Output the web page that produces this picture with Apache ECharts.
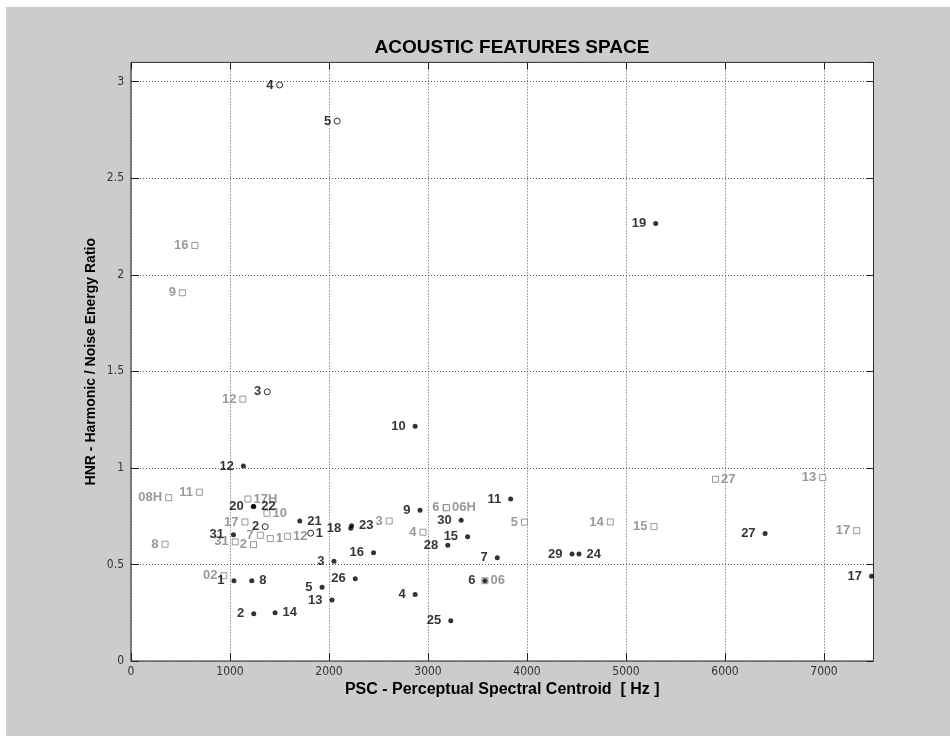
<!DOCTYPE html>
<html>
<head>
<meta charset="utf-8">
<script src="https://cdn.jsdelivr.net/npm/echarts@6/dist/echarts.min.js"></script>
<style>
html,body{margin:0;padding:0;background:#fff;}
#c{position:absolute;left:6px;top:7px;width:944px;height:729px;}
</style>
</head>
<body>
<div id="c"></div>
<script>
// ---- data ----
const chartTitle = 'ACOUSTIC FEATURES SPACE';
const xName = 'PSC - Perceptual Spectral Centroid  [ Hz ]';
const yName = 'HNR - Harmonic / Noise Energy Ratio';

// black filled dots
const dotNames = ['1','2','3','4','5','6','7','8','9','10','11','12','13','14','15','16','17','18','19','20','21','22','23','24','25','26','27','28','29','30','31'];
const dotX = [1040,1240,2050,2870,1930,3575,3700,1220,2920,2870,3835,1135,2030,1455,3400,2450,7480,2220,5300,1235,1705,1240,2228,4525,3230,2265,6405,3200,4455,3335,1035];
const dotY = [0.416,0.245,0.517,0.345,0.382,0.416,0.535,0.416,0.781,1.216,0.839,1.010,0.316,0.250,0.644,0.560,0.439,0.688,2.266,0.800,0.725,0.800,0.700,0.554,0.209,0.426,0.660,0.599,0.554,0.729,0.654];
const dotSide = ['L','L','L','L','L','L','L','R','L','L','L','L','L','R','L','L','L','L','L','L','R','R','R','R','L','L','L','L','L','L','L'];

// black open circles
const circleNames = ['1','2','3','4','5'];
const circleX = [1815,1355,1377,1501,2082];
const circleY = [0.662,0.696,1.394,2.983,2.796];
const circleSide = ['R','L','L','L','L'];

// grey open squares
const squareNames = ['16','9','12','08H','11','17H','10','17','7','1','12','31','2','8','3','02','4','6','06H','5','06','27','13','14','15','17'];
const squareX = [645,519,1130,381,691,1181,1373,1151,1306,1407,1582,1053,1238,344,2608,938,2949,3182,3188,3975,3575,5904,6987,4841,5283,7331];
const squareY = [2.152,1.907,1.356,0.846,0.874,0.839,0.765,0.720,0.651,0.634,0.646,0.617,0.603,0.605,0.725,0.442,0.667,0.794,0.794,0.719,0.416,0.941,0.950,0.720,0.696,0.675];
const squareSide = ['L','L','L','L','L','R','R','L','L','R','R','L','L','L','L','L','L','L','R','L','R','R','L','L','L','L'];

const xMin = 0, xMax = 7500, xStep = 1000;
const yMin = 0, yMax = 3.1, yStep = 0.5;

// ---- build ----
const labelFont = 'Liberation Sans, Arial, Helvetica, sans-serif';
function build(names, xs, ys, sides, dl, dr) {
  return names.map((n, i) => ({
    value: [xs[i], ys[i]],
    name: n,
    label: { position: sides[i] === 'R' ? 'right' : 'left', distance: sides[i] === 'R' ? dr : dl }
  }));
}
const tickFont = 'DejaVu Sans Condensed, Liberation Sans Narrow, sans-serif';

const chart = echarts.init(document.getElementById('c'), null, { renderer: 'canvas' });
const gridLine = { show: true, lineStyle: { color: '#555', width: 1, type: [1, 2] } };
const plain = v => String(v);
const baseX = { type: 'value', min: xMin, max: xMax, interval: xStep };
const baseY = { type: 'value', min: yMin, max: yMax, interval: yStep };
chart.setOption({
  animation: false,
  backgroundColor: '#cccccc',
  title: {
    text: chartTitle, left: 501, top: 26, textAlign: 'center',
    textStyle: { fontFamily: labelFont, fontWeight: 'bold', fontSize: 19, color: '#000' }
  },
  grid: {
    left: 125, top: 55.4, right: 76.5, bottom: 75,
    show: true, backgroundColor: '#fff', borderColor: '#222', borderWidth: 1
  },
  xAxis: [
    Object.assign({}, baseX, {
      position: 'bottom',
      name: xName, nameLocation: 'middle', nameGap: 21, nameMoveOverlap: false,
      nameTextStyle: { fontFamily: labelFont, fontWeight: 'bold', fontSize: 16, color: '#000' },
      axisLine: { show: false },
      axisTick: { show: true, inside: true, length: 8, lineStyle: { color: '#222' } },
      axisLabel: { show: true, showMaxLabel: false, margin: 5, color: '#333', fontSize: 12, fontFamily: tickFont, formatter: plain },
      splitLine: gridLine
    }),
    Object.assign({}, baseX, {
      position: 'top',
      axisLine: { show: false, onZero: false },
      axisTick: { show: true, inside: true, length: 7, lineStyle: { color: '#222' } },
      axisLabel: { show: false },
      splitLine: { show: false }
    })
  ],
  yAxis: [
    Object.assign({}, baseY, {
      position: 'left',
      name: yName, nameLocation: 'middle', nameGap: 33, nameMoveOverlap: false,
      nameTextStyle: { fontFamily: labelFont, fontWeight: 'bold', fontSize: 14, color: '#000' },
      axisLine: { show: false },
      axisTick: { show: true, inside: true, length: 8, lineStyle: { color: '#222' } },
      axisLabel: { show: true, showMaxLabel: false, margin: 7, color: '#333', fontSize: 12, fontFamily: tickFont, formatter: plain },
      splitLine: gridLine
    }),
    Object.assign({}, baseY, {
      position: 'right',
      axisLine: { show: false, onZero: false },
      axisTick: { show: true, inside: true, length: 7, lineStyle: { color: '#222' } },
      axisLabel: { show: false },
      splitLine: { show: false }
    })
  ],
  series: [
    {
      type: 'scatter', name: 'squares', symbol: 'rect', symbolSize: 6, z: 2,
      itemStyle: { color: '#fff', borderColor: '#808080', borderWidth: 1 },
      label: { show: true, formatter: '{b}', color: '#808080', fontWeight: 'bold', fontSize: 13, fontFamily: labelFont },
      emphasis: { disabled: true },
      data: build(squareNames, squareX, squareY, squareSide, 3, 2)
    },
    {
      type: 'scatter', name: 'circles', symbol: 'circle', symbolSize: 6, z: 3,
      itemStyle: { color: '#fff', borderColor: '#000', borderWidth: 1 },
      label: { show: true, formatter: '{b}', color: '#000', fontWeight: 'bold', fontSize: 13, fontFamily: labelFont },
      emphasis: { disabled: true },
      data: build(circleNames, circleX, circleY, circleSide, 2.5, 1.5)
    },
    {
      type: 'scatter', name: 'dots', symbol: 'circle', symbolSize: 5, z: 4,
      itemStyle: { color: '#000' },
      label: { show: true, formatter: '{b}', color: '#000', fontWeight: 'bold', fontSize: 13, fontFamily: labelFont },
      emphasis: { disabled: true },
      data: build(dotNames, dotX, dotY, dotSide, 7, 5)
    }
  ]
});
</script>
</body>
</html>
